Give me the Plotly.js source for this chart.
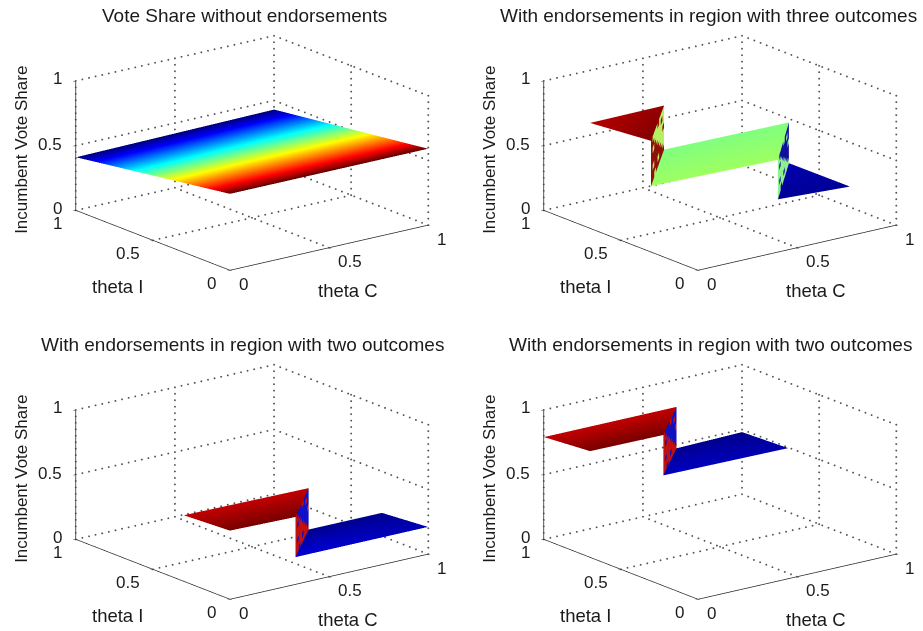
<!DOCTYPE html>
<html><head><meta charset="utf-8">
<script src="https://cdn.plot.ly/plotly-3.0.0.min.js"></script>
<style>html,body{margin:0;padding:0;background:#fff}#c{width:923px;height:631px}</style>
</head><body><div id="c"></div>
<script>
const tickVals=[0,0.5,1];
const tickText=['0','0.5','1'];
const titles=["Vote Share without endorsements","With endorsements in region with three outcomes","With endorsements in region with two outcomes","With endorsements in region with two outcomes"];
const titleCx=[244,708.5,242.5,710.5];
const titleCy=[16,16,344,344];
const jet=[[0,'#00007a'],[0.125,'#0000ff'],[0.375,'#00ffff'],[0.625,'#ffff00'],[0.875,'#ff0000'],[1,'#600000']];
// plates: [x, y, z, colour position], two rows of two corners
const p1=[[[0,1],[0,1]],[[0,0],[1,1]],[[0.59,0.59],[0.41,0.43]],[[1,1],[0,0]]];
const p2Red=[[[0.02,0.02],[0,0.35]],[[0.33,0.33],[0.7,0.67]],[[0.84,0.84],[0.814,0.84]],[[0.97,0.97],[0.93,0.96]]];
const p2Green=[[[0.02,0.66],[0.35,0.98]],[[0.33,0.33],[0.67,0.67]],[[0.49,0.47],[0.5,0.49]],[[0.53,0.53],[0.5,0.5]]];
const p2Blue=[[[0.66,1],[0.98,0.98]],[[0.33,0.3],[0.67,0.67]],[[0.165,0.159],[0.175,0.175]],[[0.03,0.03],[0.05,0.05]]];
const p3Red=[[[0,0.33],[0,0.63]],[[0,0],[0.3,0.3]],[[0.53,0.52],[0.51,0.5]],[[0.98,0.98],[0.92,0.92]]];
const p3Blue=[[[0.33,1],[0.63,1]],[[0,0],[0.3,0.3]],[[0.21,0.21],[0.18,0.18]],[[0.09,0.06],[0.02,0.02]]];
const p4Red=[[[0,0.37],[0,0.67]],[[0.7,0.7],[1,1]],[[0.82,0.816],[0.79,0.79]],[[0.98,0.98],[0.92,0.92]]];
const p4Blue=[[[0.37,1],[0.67,1]],[[0.7,0.7],[1,1]],[[0.504,0.495],[0.47,0.48]],[[0.07,0.05],[0.02,0.02]]];
const plates=[[p1],[p2Red,p2Green,p2Blue],[p3Red,p3Blue],[p4Red,p4Blue]];
// cliffs: top-low-I, top-high-I, bottom-high-I, bottom-low-I corners, then the two facet colours
const cliffs=[[],
 [[[0.02,0.33,0.84],[0.35,0.67,0.84],[0.35,0.67,0.5],[0.02,0.33,0.49],'#b4f060','#8f1008'],
  [[0.66,0.33,0.47],[0.98,0.67,0.49],[0.98,0.67,0.175],[0.66,0.33,0.165],'#10109f','#90f090']],
 [[[0.33,0,0.52],[0.63,0.3,0.5],[0.63,0.3,0.18],[0.33,0,0.21],'#1010c8','#c01010']],
 [[[0.37,0.7,0.816],[0.67,1,0.79],[0.67,1,0.47],[0.37,0.7,0.504],'#1010c0','#c01010']]];
const facets=["BAAABAAA","BBAAAABA","BABAAAAA","BBBBAAAB","BBBBBAAA","BABBBBAA","BBBBABBA","BBABBBBB"];
const centers=[[252,153],[720,153],[252,482],[720,482]];
const W=923,H=631,hw=200,hh=145;
const dotsX=30,dotsY=25,dotsZ=20;
function dottedGrid(){const x=[],y=[],z=[];
 const seg=(a,b,n)=>{for(let i=0;i<=n;i++){const t=i/n;x.push(a[0]+(b[0]-a[0])*t);y.push(a[1]+(b[1]-a[1])*t);z.push(a[2]+(b[2]-a[2])*t)}};
 for(const t of tickVals){
  seg([0,1,t],[1,1,t],dotsX);seg([1,0,t],[1,1,t],dotsY);
  if(t>0){seg([t,0,0],[t,1,0],dotsY);seg([0,t,0],[1,t,0],dotsX);}
  seg([t,1,0],[t,1,1],dotsZ);seg([1,t,0],[1,t,1],dotsZ);
 }
 return {x,y,z};}
const flatLight={ambient:1,diffuse:0,specular:0,fresnel:0,roughness:1};
function plateMesh(s,sc){
 return {type:'mesh3d',scene:sc,x:s[0].flat(),y:s[1].flat(),z:s[2].flat(),intensity:s[3].flat(),i:[0,0],j:[1,3],k:[3,2],cmin:0,cmax:1,colorscale:jet,showscale:false,hoverinfo:'skip',lighting:flatLight};
}
function cliffMesh(c,sc){const [p0,p1_,p2,p3,ca,cb]=c;const n=facets.length;
 const lerp=(a,b,t)=>a.map((v,k)=>v+(b[k]-v)*t);
 const X=[],Y=[],Z=[],I=[],J=[],K=[],FC=[];
 const pt=(u,v)=>lerp(lerp(p0,p1_,u),lerp(p3,p2,u),v);
 for(let r=0;r<n;r++)for(let q=0;q<n;q++){
  const b=X.length;const v=[pt(q/n,r/n),pt((q+1)/n,r/n),pt((q+1)/n,(r+1)/n),pt(q/n,(r+1)/n)];
  v.forEach(P=>{X.push(P[0]);Y.push(P[1]);Z.push(P[2])});
  I.push(b,b);J.push(b+1,b+2);K.push(b+2,b+3);
  const col=facets[r][q]=='A'?ca:cb;FC.push(col,col);
 }
 return {type:'mesh3d',scene:sc,x:X,y:Y,z:Z,i:I,j:J,k:K,facecolor:FC,flatshading:true,hoverinfo:'skip',lighting:flatLight};
}
const font=(s)=>({family:'Liberation Sans',size:s,color:'#1a1a1a'});
const traces=[],layout={width:W,height:H,margin:{l:0,r:0,t:0,b:0},paper_bgcolor:'#fff',showlegend:false,annotations:[]};
const ax=()=>({range:[0,1],tickvals:tickVals,ticktext:tickText,showgrid:false,zeroline:false,showline:true,linecolor:'#222',linewidth:1.5,showbackground:false,showspikes:false,ticks:'outside',ticklen:3,tickcolor:'#222',tickwidth:1,showticklabels:false,title:{text:''}});
plates.forEach((ps,i)=>{
 const sc=i==0?'scene':'scene'+(i+1);
 const g=dottedGrid();traces.push({type:'scatter3d',scene:sc,mode:'markers',x:g.x,y:g.y,z:g.z,marker:{color:'#555',size:1.1,line:{width:0}},hoverinfo:'skip'});
 ps.forEach(s=>traces.push(plateMesh(s,sc)));
 cliffs[i].forEach(c=>traces.push(cliffMesh(c,sc)));
 const [cx,cy]=centers[i];
 const ann=[];
 tickVals.forEach((t,k)=>{
  ann.push({x:t,y:0,z:0,text:tickText[k],showarrow:false,xanchor:'center',yanchor:'middle',xshift:k==1?21:13.5,yshift:-14,font:font(17)});
  ann.push({x:0,y:t,z:0,text:tickText[k],showarrow:false,xanchor:'center',yanchor:'middle',xshift:k==1?-25:-18.5,yshift:-13.5,font:font(17)});
  ann.push({x:0,y:1,z:t,text:tickText[k],showarrow:false,xanchor:'right',yanchor:'middle',xshift:-12,yshift:k==1?1:2,font:font(17)});
 });
 ann.push({x:0.5,y:0,z:0,text:'theta C',showarrow:false,xanchor:'center',yanchor:'middle',xshift:19,yshift:-42.5,font:font(18.5)});
 ann.push({x:0,y:0.5,z:0,text:'theta I',showarrow:false,xanchor:'center',yanchor:'middle',xshift:-35,yshift:-46,font:font(18.5)});
 ann.push({x:0,y:1,z:0.5,text:'Incumbent Vote Share',textangle:-90,showarrow:false,xanchor:'center',yanchor:'middle',xshift:-55,yshift:-4.5,font:font(17)});
 layout[sc]={domain:{x:[(cx-hw)/W,(cx+hw)/W],y:[1-(cy+hh)/H,1-(cy-hh)/H]},xaxis:ax(),yaxis:ax(),zaxis:ax(),aspectmode:'manual',aspectratio:{x:1.722,y:1.75,z:0.935},
  camera:{eye:{x:-2.007,y:-2.622,z:1.029},center:{x:0,y:0,z:0},up:{x:0,y:0,z:1},projection:{type:'orthographic'}},dragmode:false,annotations:ann};
 layout.annotations.push({xref:'paper',yref:'paper',x:titleCx[i]/W,y:1-titleCy[i]/H,xanchor:'center',yanchor:'middle',showarrow:false,text:titles[i],font:font(19)});
});
Plotly.newPlot('c',traces,layout,{displayModeBar:false});
</script></body></html>
